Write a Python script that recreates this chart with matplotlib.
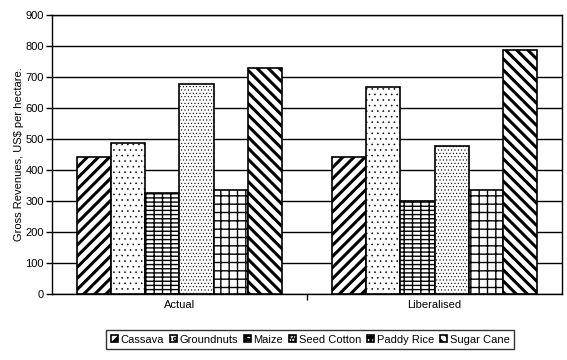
import matplotlib.pyplot as plt
import numpy as np

plt.rcParams['font.family'] = ['Liberation Sans', 'DejaVu Sans']

# revenue per hectare
scenarios = ['Actual', 'Liberalised']
crops = ['Cassava', 'Groundnuts', 'Maize', 'Seed Cotton', 'Paddy Rice', 'Sugar Cane']
cassava = [443, 443]
groundnuts = [488, 669]
maize = [326, 299]
seed_cotton = [679, 478]
paddy_rice = [336, 336]
sugar_cane = [728, 789]

series = [cassava, groundnuts, maize, seed_cotton, paddy_rice, sugar_cane]
hatches = ['///', '...', '----||', '.....', '++', '\\\\\\']
hatch_lw = [2.2, 0.4, 1.0, 0.4, 1.0, 2.2]

fig = plt.figure(figsize=(5.67, 3.6), dpi=100)
ax = fig.add_axes([0.0917, 0.183, 0.8995, 0.775])

x = np.arange(len(scenarios))
w = 0.134
handles = []
for i, vals in enumerate(series):
    plt.rcParams['hatch.linewidth'] = hatch_lw[i]
    b = ax.bar(x + (i - 2.5) * w, vals, w, color='white', edgecolor='black',
               linewidth=1.2, hatch=hatches[i], label=crops[i], zorder=3)
    handles.append(b)

ax.set_xlim(-0.5, 1.5)
ax.set_ylim(0, 900)
ax.set_yticks(range(0, 901, 100))
ax.set_xticks([0.5], minor=True)
ax.set_xticks(x)
ax.set_xticklabels(scenarios)
ax.tick_params(axis='x', which='major', length=0, labelsize=8, pad=4)
ax.tick_params(axis='x', which='minor', length=4, width=1, color='black')
ax.tick_params(axis='y', length=4, width=1, labelsize=8, pad=2)
ax.grid(axis='y', color='black', linewidth=1, zorder=0)
for s in ax.spines.values():
    s.set_color('black')
    s.set_linewidth(1)
ax.set_ylabel('Gross Revenues, US$ per hectare.', fontsize=8, labelpad=1)

leg = fig.legend(handles=handles, loc='center', bbox_to_anchor=(0.547, 0.056),
                 ncol=6, fontsize=8, frameon=True, fancybox=False,
                 edgecolor='black', handlelength=0.6, handleheight=0.6,
                 handletextpad=0.25, columnspacing=0.55, borderpad=0.4)
leg.get_frame().set_linewidth(1)

fig.savefig('out.png', dpi=100)
